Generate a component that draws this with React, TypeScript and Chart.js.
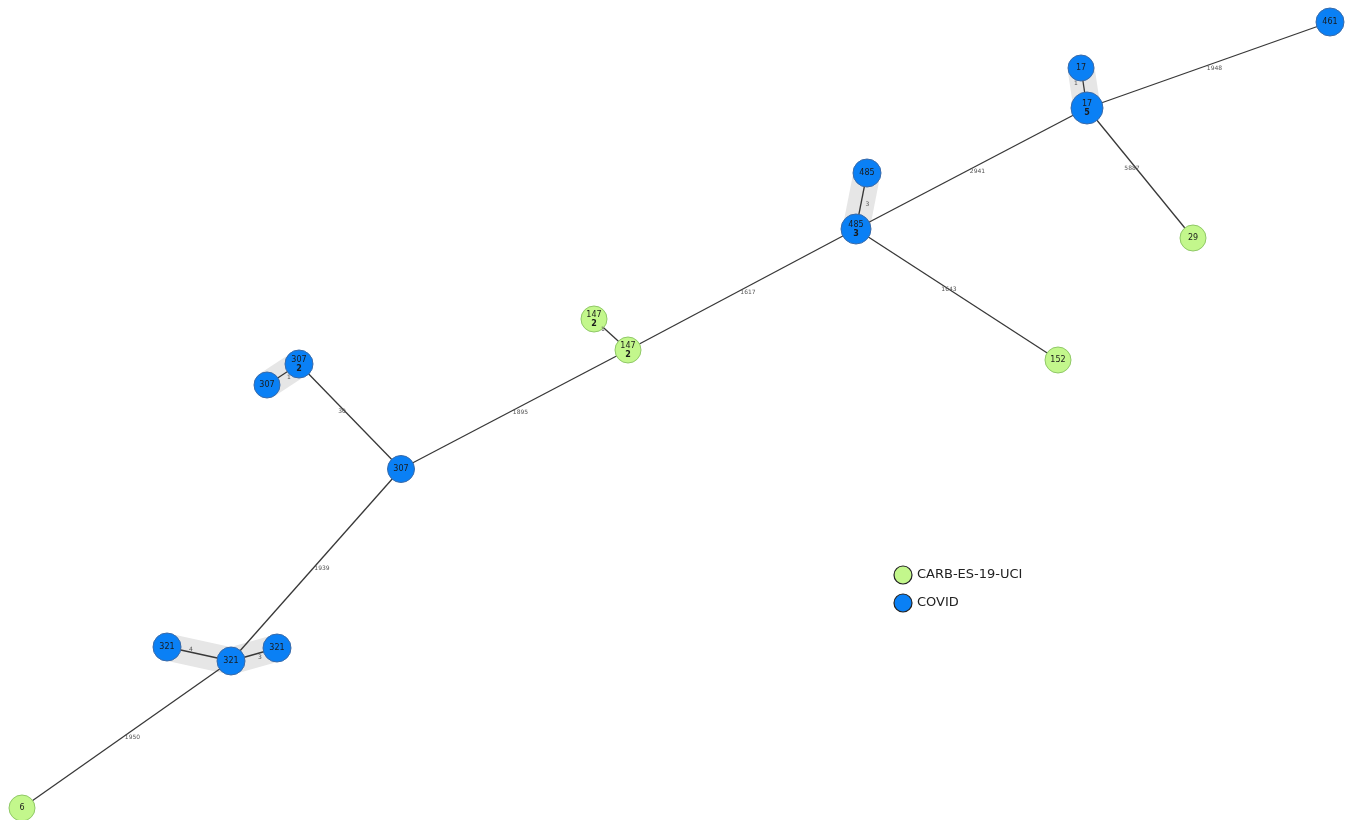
import { useEffect, useRef } from 'react';
import { Chart, registerables } from 'chart.js';

Chart.register(...registerables);

// Node table: name, count shown under the name, group, layout position
const nodeNames = ['461', '17', '17', '485', '485', '29', '152', '147', '147', '307', '307', '307', '321', '321', '321', '6'];
const nodeCounts = ['', '', '5', '', '3', '', '', '2', '2', '2', '', '', '', '', '', ''];
const nodeGroups = ['COVID', 'COVID', 'COVID', 'COVID', 'COVID', 'CARB-ES-19-UCI', 'CARB-ES-19-UCI', 'CARB-ES-19-UCI', 'CARB-ES-19-UCI', 'COVID', 'COVID', 'COVID', 'COVID', 'COVID', 'COVID', 'CARB-ES-19-UCI'];
const nodeX = [1330, 1081, 1087, 867, 856, 1193, 1058, 594, 628, 299, 267, 401, 167, 231, 277, 22];
const nodeY = [22, 68, 108, 173, 229, 238, 360, 319, 350, 364, 385, 469, 647, 661, 648, 808];
const nodeSize = [14, 13, 16, 14, 15, 13, 13, 13, 13, 14, 13, 13.5, 14, 14, 14, 13];

// Edges: source index, target index, distance label
const edgeFrom = [2, 1, 4, 2, 3, 4, 8, 7, 11, 10, 9, 11, 12, 13, 15];
const edgeTo = [0, 2, 2, 5, 4, 6, 4, 8, 8, 9, 11, 13, 13, 14, 13];
const edgeWeights = ['1948', '1', '2941', '5887', '3', '1643', '1617', '1', '1895', '1', '30', '1939', '4', '3', '1950'];

// Clusters of near-identical nodes, shaded behind their edges
const clusters = [[1, 2], [3, 4], [10, 9], [12, 13, 14]];

const groups = ['CARB-ES-19-UCI', 'COVID'];
const groupFill = ['#c3f78c', '#0a80f5'];
const groupBorder = ['#8fc866', '#3a6aa8'];

export default function App() {
  const ref = useRef<HTMLCanvasElement | null>(null);

  useEffect(() => {
    if (!ref.current) return;

    const edgeDatasets = edgeFrom.map((f, i) => ({
      type: 'line' as const,
      label: 'edge' + i,
      data: [
        { x: nodeX[f], y: nodeY[f] },
        { x: nodeX[edgeTo[i]], y: nodeY[edgeTo[i]] },
      ],
      borderColor: '#383838',
      borderWidth: 1.3,
      pointRadius: 0,
      fill: false,
      order: 2,
      clip: false as any,
    }));

    const nodeDatasets = groups.map((g, gi) => {
      const idx = nodeGroups.map((ng, i) => (ng === g ? i : -1)).filter((i) => i >= 0);
      return {
        type: 'scatter' as const,
        label: g,
        data: idx.map((i) => ({ x: nodeX[i], y: nodeY[i] })),
        pointRadius: idx.map((i) => nodeSize[i]),
        pointBackgroundColor: groupFill[gi],
        pointBorderColor: groupBorder[gi],
        pointBorderWidth: 1,
        order: 1,
        clip: false as any,
      };
    });

    const graphPlugin = {
      id: 'graphDecor',
      beforeDatasetsDraw(chart: any) {
        const { ctx, scales } = chart;
        const px = (i: number) => scales.x.getPixelForValue(nodeX[i]);
        const py = (i: number) => scales.y.getPixelForValue(nodeY[i]);
        ctx.save();
        ctx.strokeStyle = '#e6e6e6';
        ctx.lineWidth = 27;
        ctx.lineJoin = 'round';
        ctx.lineCap = 'butt';
        clusters.forEach((c) => {
          ctx.beginPath();
          c.forEach((n, k) => (k === 0 ? ctx.moveTo(px(n), py(n)) : ctx.lineTo(px(n), py(n))));
          ctx.stroke();
        });
        ctx.restore();
      },
      afterDatasetsDraw(chart: any) {
        const { ctx, scales } = chart;
        const px = (i: number) => scales.x.getPixelForValue(nodeX[i]);
        const py = (i: number) => scales.y.getPixelForValue(nodeY[i]);
        ctx.save();
        // distance labels near edge midpoints, nudged off the line
        ctx.font = '6px "DejaVu Sans"';
        ctx.fillStyle = '#555';
        ctx.textAlign = 'center';
        ctx.textBaseline = 'middle';
        edgeFrom.forEach((f, i) => {
          const t = edgeTo[i];
          const dx = px(t) - px(f);
          const dy = py(t) - py(f);
          const mx = (px(f) + px(t)) / 2;
          const my = (py(f) + py(t)) / 2;
          const falling = dx * dy > 0;
          ctx.fillText(edgeWeights[i], mx + (falling ? -8 : 6), my + (falling ? -5 : 3));
        });
        // node names and counts
        ctx.fillStyle = '#1a1a1a';
        nodeNames.forEach((name, i) => {
          const x = px(i);
          const y = py(i);
          if (nodeCounts[i]) {
            ctx.font = '8px "DejaVu Sans"';
            ctx.fillText(name, x, y - 4);
            ctx.font = 'bold 8px "DejaVu Sans"';
            ctx.fillText(nodeCounts[i], x, y + 5);
          } else {
            ctx.font = '8px "DejaVu Sans"';
            ctx.fillText(name, x, y);
          }
        });
        // legend
        const lx = scales.x.getPixelForValue(903);
        const ly = scales.y.getPixelForValue(575);
        groups.forEach((g, gi) => {
          const y = ly + gi * 28;
          ctx.beginPath();
          ctx.arc(lx, y, 9, 0, Math.PI * 2);
          ctx.fillStyle = groupFill[gi];
          ctx.fill();
          ctx.lineWidth = 1.2;
          ctx.strokeStyle = '#222';
          ctx.stroke();
          ctx.fillStyle = '#222';
          ctx.font = '13px "DejaVu Sans"';
          ctx.textAlign = 'left';
          ctx.fillText(g, lx + 14, y);
        });
        ctx.restore();
      },
    };

    const chart = new Chart(ref.current, {
      type: 'scatter',
      data: { datasets: [...edgeDatasets, ...nodeDatasets] as any },
      options: {
        animation: false,
        responsive: false,
        devicePixelRatio: 1,
        layout: { padding: 0, autoPadding: false },
        plugins: { legend: { display: false }, tooltip: { enabled: false } },
        scales: {
          x: { type: 'linear', min: 0, max: 1351, display: false },
          y: { type: 'linear', min: 0, max: 820, reverse: true, display: false },
        },
      },
      plugins: [graphPlugin],
    });
    return () => chart.destroy();
  }, []);

  return (
    <div style={{ position: 'absolute', left: 0, top: 0, width: 1351, height: 820, background: '#fff' }}>
      <canvas ref={ref} width={1351} height={820} />
    </div>
  );
}
